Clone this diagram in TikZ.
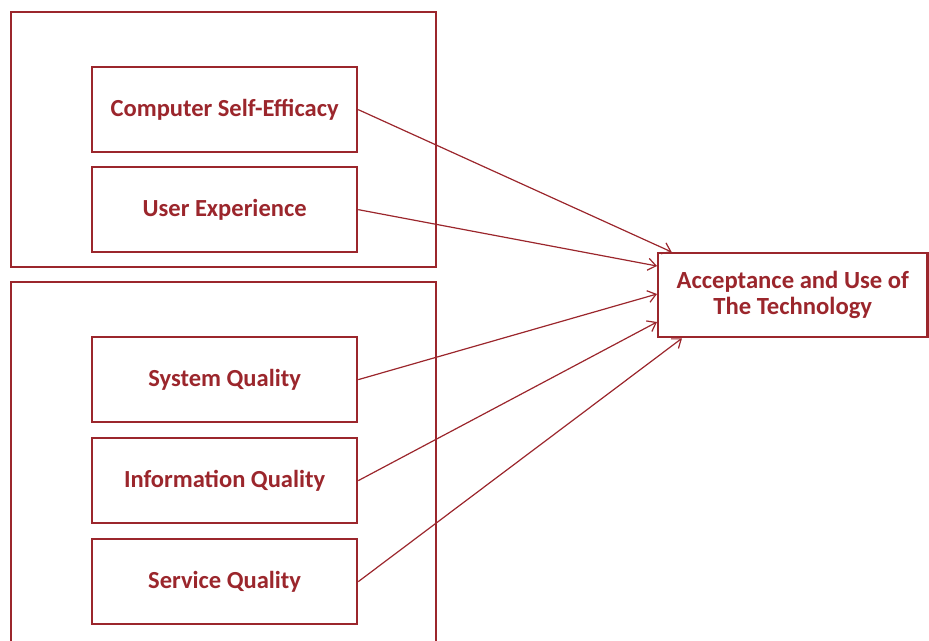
\documentclass[tikz,border=0pt]{standalone}
\usepackage{fontspec}
\setmainfont{Carlito}
\usetikzlibrary{arrows.meta}
\definecolor{dred}{RGB}{155,38,44}
\tikzset{
  px/.style={x=0.75pt,y=-0.75pt},
  group/.style={draw=dred,line width=1.7pt},
  factor/.style={draw=dred,line width=1.7pt,minimum width=198.75pt,minimum height=63.75pt,inner sep=0pt,anchor=north west,
     text=dred,font=\fontsize{18.4}{21}\selectfont\bfseries},
  conn/.style={draw=dred,line width=0.9pt,-{Straight Barb[length=6pt,width=9pt,line width=0.9pt]}}
}
\begin{document}
\begin{tikzpicture}[px]
\useasboundingbox (0,0) rectangle (929,640);
\clip (0,0) rectangle (929,640);
\draw[group] (11,12) rectangle (436,267);
\draw[group] (11,282) rectangle (436,660);
\node[factor] (cse) at (91,66) {Computer Self-Efficacy};
\node[factor] (ue) at (91,166) {User Experience};
\node[factor] (sq) at (91,336) {System Quality};
\node[factor] (iq) at (91,437) {Information Quality};
\node[factor] (svq) at (91,538) {Service Quality};
\node[draw=dred,line width=1.7pt,anchor=north west,minimum width=202pt,minimum height=63pt,inner sep=0pt,
  text=dred,font=\fontsize{18.5}{19.5}\selectfont\bfseries,align=center] (acc) at (657,252) {Acceptance and Use of\\The Technology};
\draw[conn] (cse.east) -- ([xshift=11pt]acc.north west);
\draw[conn] (ue.east) -- ([yshift=-10.5pt]acc.north west);
\draw[conn] (sq.east) -- ([yshift=-31.5pt]acc.north west);
\draw[conn] (iq.east) -- ([yshift=-52.5pt]acc.north west);
\draw[conn] (svq.east) -- ([xshift=18.75pt]acc.south west);
\end{tikzpicture}
\end{document}
